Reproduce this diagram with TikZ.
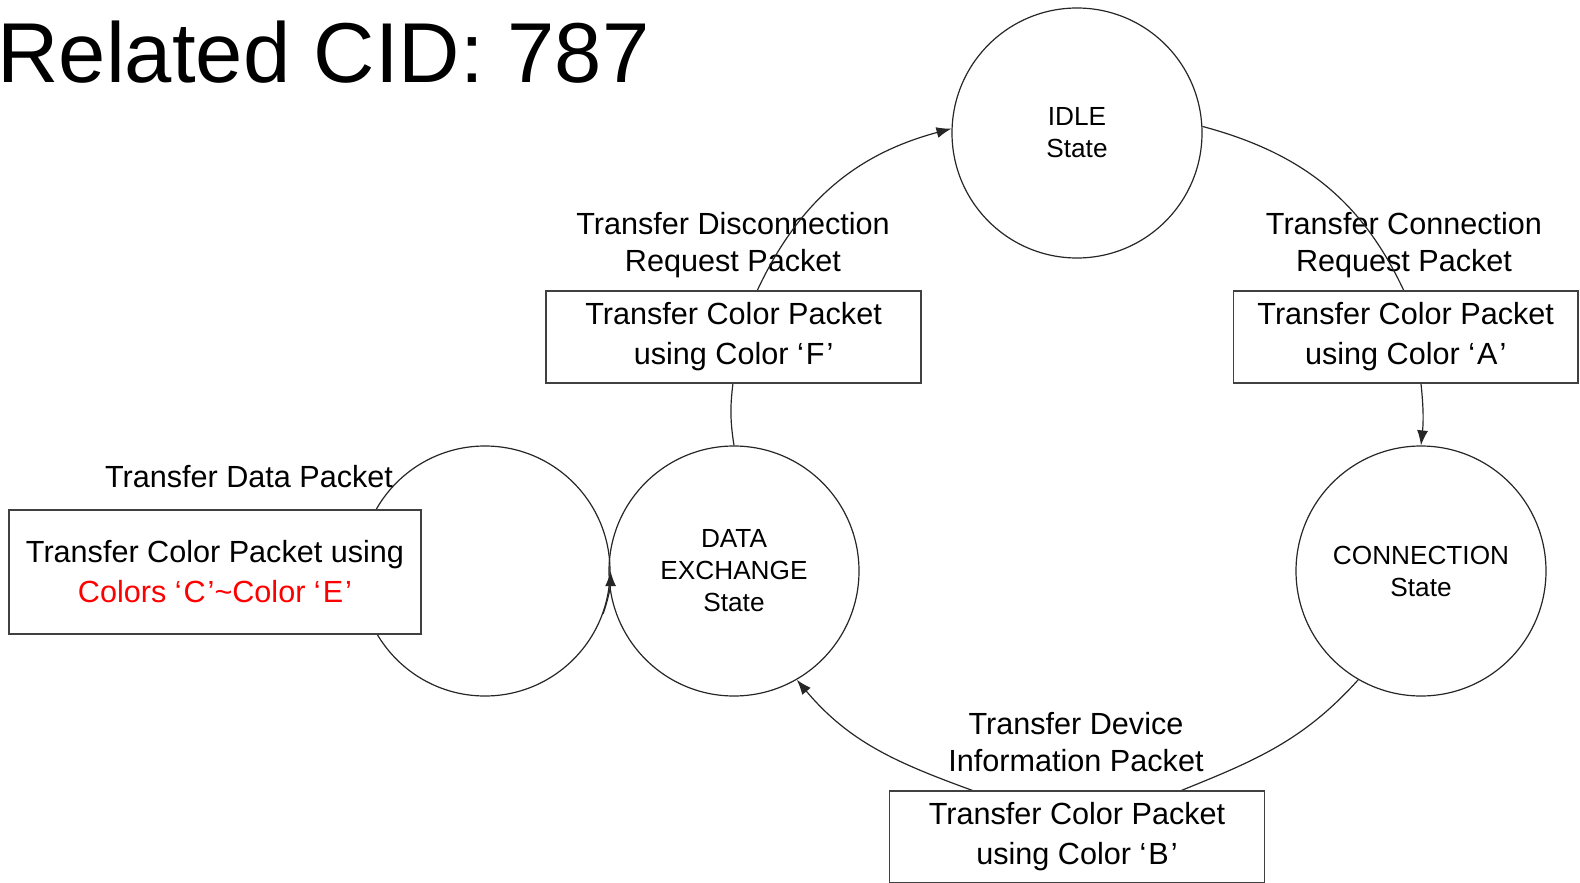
\documentclass[tikz,border=0pt]{standalone}
\usepackage{fontspec}
\setmainfont{Liberation Sans}
\usetikzlibrary{arrows.meta}
\usetikzlibrary{positioning}

% quoted colour letter, set a little loose
\newcommand{\qlet}[1]{‘\kern1pt#1\kern1pt’}

\begin{document}
\begin{tikzpicture}[
      x=0.5pt, y=-0.5pt,
      state/.style={circle, draw=black!85, line width=0.6pt, minimum size=125pt, inner sep=0pt, align=center, font=\fontsize{13.1}{16}\selectfont},
      packet/.style={rectangle, draw=black!75, line width=0.8pt, fill=white, inner sep=0pt, align=center, minimum height=46pt, font=\fontsize{15.3}{20}\selectfont},
      note/.style={align=center, inner sep=0pt, font=\fontsize{15.3}{18.7}\selectfont},
      link/.style={draw=black!85, line width=0.6pt},
      tip/.style={-{Latex[length=7.5pt, width=5.5pt]}},
      ]
        \useasboundingbox (0,0) rectangle (1580,883);

        \node[anchor=base west, inner sep=0pt, font=\fontsize{42.5}{50}\selectfont] (title) at (-3,83) {Related CID: 787};

        % states
        \node[state] (idle) at (1077,133) {IDLE\\State};
        \node[state] (conn) at (1421,571) {CONNECTION\\State};
        \node[state] (data) at (734,571) {DATA\\EXCHANGE\\State};
        \node[state] (loop) at (485,571) {};

        % transition labels
        \node[note] (disc-req) at (733,245) {Transfer Disconnection\\Request Packet};
        \node[note] (conn-req) at (1404,245) {Transfer Connection\\Request Packet};
        \node[note] (data-pkt) at (249,477) {Transfer Data Packet};
        \node[note] (dev-info) at (1076,742) {Transfer Device\\Information Packet};

        % transitions
        \draw[link] (idle.3) to[out=-15, in=115] (conn-req.south |- 0,291);
        \draw[link] (conn.240) to[out=228, in=22] ([xshift=52pt]dev-info.south |- 0,791);
        \draw[link, tip] ([xshift=-51pt]dev-info.south |- 0,791) to[out=160, in=-50] (data.300);
        \draw[link] (data.north) to[bend left=8] (disc-req.south |- 0,383);
        \draw[link, tip] ([xshift=12pt]disc-req.south |- 0,291) to[out=65, in=195] (idle.178);
        \draw[link, tip] (loop.-20) arc[start angle=-20, end angle=0, radius=62.5pt];

        % colour packets
        \node[packet, minimum width=187.5pt] (pkt-f) at (733.6,337) {Transfer Color Packet\\using Color \qlet{F}};
        \node[packet, minimum width=172.3pt] (pkt-a) at (1405.7,337) {Transfer Color Packet\\using Color \qlet{A}};
        \node[packet, minimum width=187.5pt] (pkt-b) at (1077,837) {Transfer Color Packet\\using Color \qlet{B}};
        \node[packet, minimum width=206pt, minimum height=62pt] (pkt-ce) at (215,572) {Transfer Color Packet using\\\textcolor{red}{Colors \qlet{C}\textasciitilde Color \qlet{E}}};

        \draw[link, tip] (pkt-a.south -| conn.north) to[bend left=6] (conn.north);
        \end{tikzpicture}
\end{document}
